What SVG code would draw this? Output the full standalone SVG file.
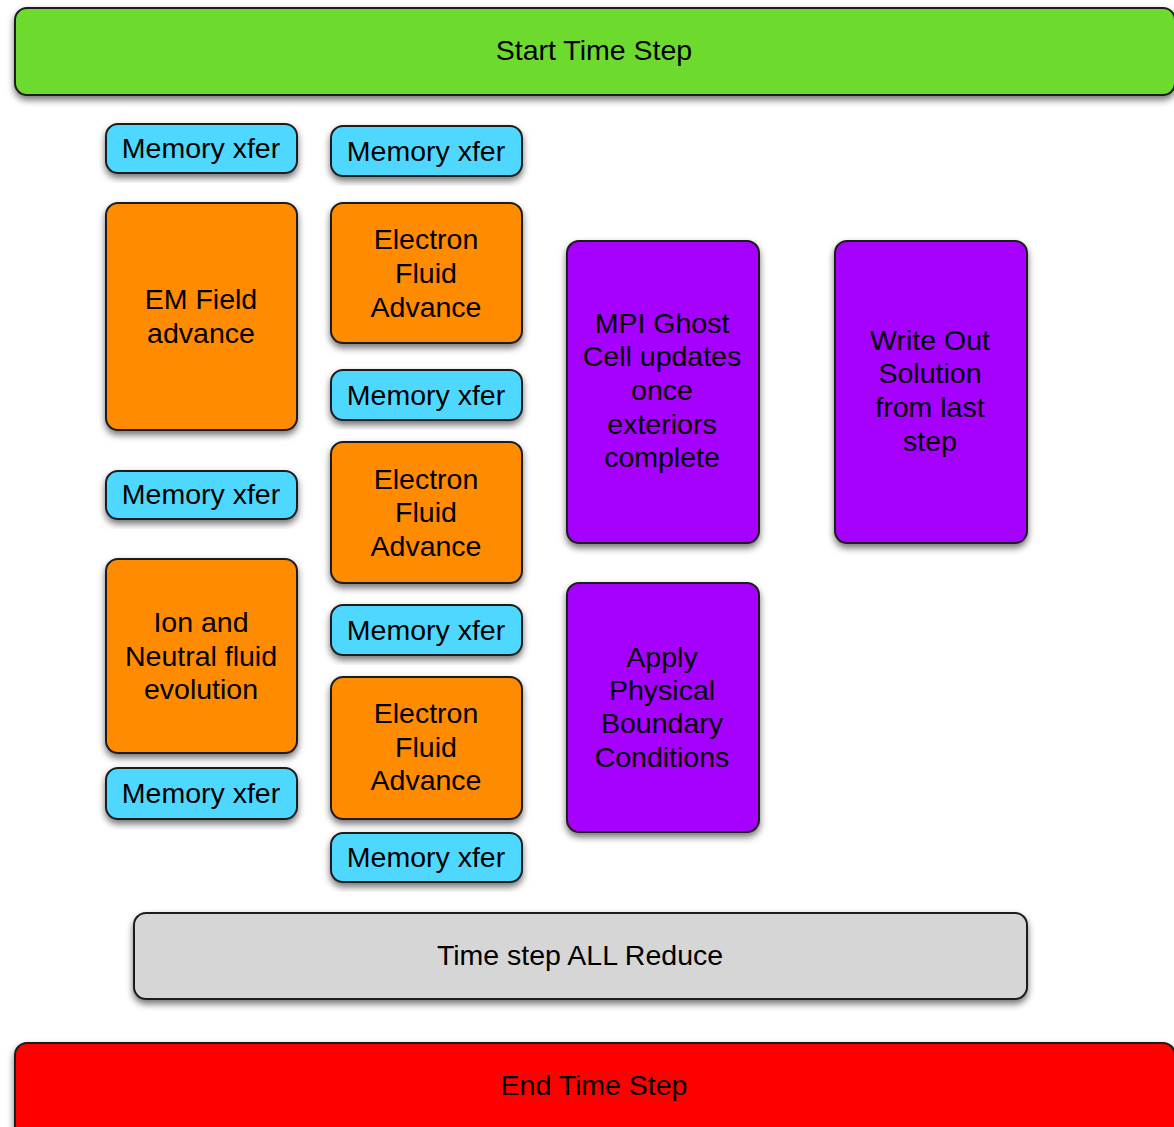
<svg xmlns="http://www.w3.org/2000/svg" width="1174" height="1127" viewBox="0 0 1174 1127">
<defs>
<filter id="sh" x="-10%" y="-10%" width="120%" height="130%">
<feDropShadow dx="0" dy="4" stdDeviation="3.5" flood-color="#000" flood-opacity="0.55"/>
</filter>
<style>
rect{stroke:#1e1e1e;stroke-width:2;filter:url(#sh)}
text{font-family:"Liberation Sans",Arial,Helvetica,sans-serif;font-size:28.5px;fill:#000;text-anchor:middle}
.g{fill:#6cdb2f}.b{fill:#50d8ff}.o{fill:#ff8b00}.p{fill:#a600ff}.gr{fill:#d6d6d6}.r{fill:#ff0000}
</style>
</defs>
<rect x="0" y="0" width="1174" height="1127" style="fill:#fff;stroke:none;filter:none"/>
<g id="connectors"/>
<g id="start"><rect class="g" x="15" y="8" width="1160" height="87" rx="12"/><text x="594" y="60">Start Time Step</text></g>
<g id="mem1"><rect class="b" x="106" y="124" width="191" height="49" rx="12"/><text x="201" y="158">Memory xfer</text></g>
<g id="mem2"><rect class="b" x="331" y="126" width="191" height="50" rx="12"/><text x="426" y="161">Memory xfer</text></g>
<g id="em"><rect class="o" x="106" y="203" width="191" height="227" rx="12"/><text x="201" y="309">EM Field</text><text x="201" y="343">advance</text></g>
<g id="ef1"><rect class="o" x="331" y="203" width="191" height="140" rx="12"/><text x="426" y="249">Electron</text><text x="426" y="283">Fluid</text><text x="426" y="317">Advance</text></g>
<g id="mem3"><rect class="b" x="331" y="370" width="191" height="50" rx="12"/><text x="426" y="405">Memory xfer</text></g>
<g id="mem4"><rect class="b" x="106" y="471" width="191" height="48" rx="12"/><text x="201" y="504">Memory xfer</text></g>
<g id="ef2"><rect class="o" x="331" y="442" width="191" height="141" rx="12"/><text x="426" y="489">Electron</text><text x="426" y="522">Fluid</text><text x="426" y="556">Advance</text></g>
<g id="ion"><rect class="o" x="106" y="559" width="191" height="194" rx="12"/><text x="201" y="632">Ion and</text><text x="201" y="666">Neutral fluid</text><text x="201" y="699">evolution</text></g>
<g id="mem5"><rect class="b" x="331" y="605" width="191" height="50" rx="12"/><text x="426" y="640">Memory xfer</text></g>
<g id="ef3"><rect class="o" x="331" y="677" width="191" height="142" rx="12"/><text x="426" y="723">Electron</text><text x="426" y="757">Fluid</text><text x="426" y="790">Advance</text></g>
<g id="mem6"><rect class="b" x="106" y="768" width="191" height="51" rx="12"/><text x="201" y="803">Memory xfer</text></g>
<g id="mem7"><rect class="b" x="331" y="833" width="191" height="49" rx="12"/><text x="426" y="867">Memory xfer</text></g>
<g id="mpi"><rect class="p" x="567" y="241" width="192" height="302" rx="12"/><text x="662" y="333">MPI Ghost</text><text x="662" y="366">Cell updates</text><text x="662" y="400">once</text><text x="662" y="434">exteriors</text><text x="662" y="467">complete</text></g>
<g id="write"><rect class="p" x="835" y="241" width="192" height="302" rx="12"/><text x="930" y="350">Write Out</text><text x="930" y="383">Solution</text><text x="930" y="417">from last</text><text x="930" y="451">step</text></g>
<g id="apply"><rect class="p" x="567" y="583" width="192" height="249" rx="12"/><text x="662" y="667">Apply</text><text x="662" y="700">Physical</text><text x="662" y="733">Boundary</text><text x="662" y="767">Conditions</text></g>
<g id="reduce"><rect class="gr" x="134" y="913" width="893" height="86" rx="12"/><text x="580" y="965">Time step ALL Reduce</text></g>
<g id="end"><rect class="r" x="15" y="1043" width="1160" height="100" rx="12"/><text x="594" y="1095">End Time Step</text></g>
</svg>
